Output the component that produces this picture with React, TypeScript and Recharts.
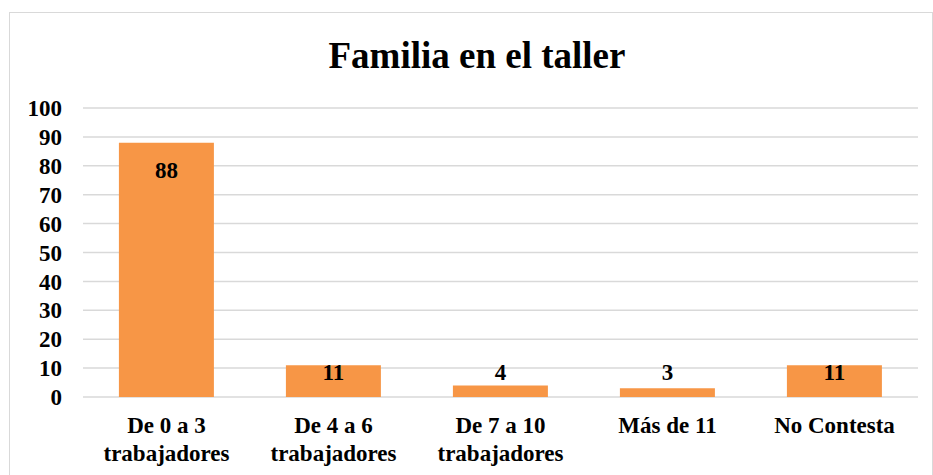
import { BarChart, Bar, XAxis, YAxis, CartesianGrid, LabelList } from 'recharts';

const categories = ['De 0 a 3\ntrabajadores', 'De 4 a 6\ntrabajadores', 'De 7 a 10\ntrabajadores', 'Más de 11', 'No Contesta'];
const values = [88, 11, 4, 3, 11];
const yTicks = [0, 10, 20, 30, 40, 50, 60, 70, 80, 90, 100];

const FONT = "'Liberation Serif', 'Times New Roman', serif";

const data = categories.map((c, i) => ({ name: c, value: values[i] }));

function CategoryTick({ x, y, payload }: any) {
  const lines = String(payload.value).split('\n');
  return (
    <text x={x} y={y} textAnchor="middle" fontFamily={FONT} fontWeight="bold" fontSize={23} fill="#000">
      {lines.map((l, i) => (
        <tspan key={i} x={x} dy={i === 0 ? 36 : 28}>{l}</tspan>
      ))}
    </text>
  );
}

function ValueLabel({ x, y, width, height, value }: any) {
  const center = Math.min(y + 27, y + height - 25);
  return (
    <text x={x + width / 2} y={center + 8} textAnchor="middle" fontFamily={FONT} fontWeight="bold" fontSize={23} fill="#000">
      {value}
    </text>
  );
}

export default function App() {
  return (
    <div style={{ position: 'absolute', left: 9, top: 12, width: 922, height: 480, border: '1px solid #d9d9d9', background: '#fff' }}>
      <svg width={922} height={80} style={{ position: 'absolute', left: 0, top: 0 }}>
        <text x={467} y={55} textAnchor="middle" fontFamily={FONT} fontWeight="bold" fontSize={37} fill="#000">
          Familia en el taller
        </text>
      </svg>
      <BarChart width={922} height={466} data={data} margin={{ top: 95, right: 14, left: 0, bottom: 22 }} barCategoryGap="21.5%">
        <CartesianGrid vertical={false} stroke="#d9d9d9" strokeWidth={1.5} />
        <XAxis dataKey="name" axisLine={false} tickLine={false} tickSize={0} tickMargin={0} height={60} interval={0} tick={<CategoryTick />} />
        <YAxis domain={[0, 100]} ticks={yTicks} interval={0} axisLine={false} tickLine={false} tickSize={0} tickMargin={21} width={73}
               tick={{ fontFamily: FONT, fontWeight: 'bold', fontSize: 23, fill: '#000' }} />
        <Bar dataKey="value" fill="#f79646" isAnimationActive={false}>
          <LabelList dataKey="value" content={<ValueLabel />} />
        </Bar>
      </BarChart>
    </div>
  );
}
